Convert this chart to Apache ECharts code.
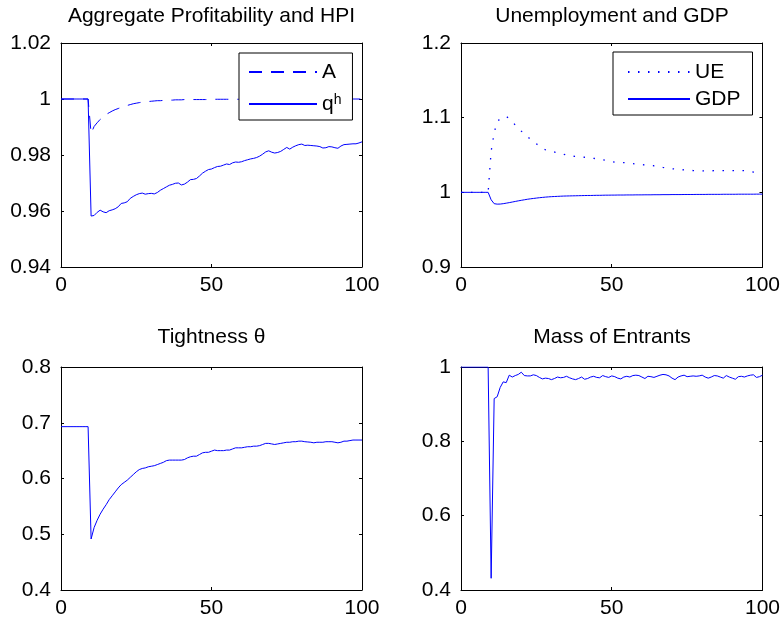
<!DOCTYPE html>
<html>
<head>
<meta charset="utf-8">
<script src="https://cdn.jsdelivr.net/npm/echarts@6/dist/echarts.min.js"></script>
<style>
html,body{margin:0;padding:0;background:#fff;}
#chart{width:783px;height:624px;}
</style>
</head>
<body>
<div id="chart"></div>
<script>
// ---- data (t = 0..100) ----
const xTicks = [0, 50, 100];

const profitA = [1,1,1,1,1,1,1,1,1,1,
0.9877,0.9902,0.9915,0.9927,0.9937,0.9945,0.9951,0.9957,0.9962,0.9966,
0.9970,0.9974,0.9977,0.9980,0.9983,0.9985,0.9987,0.9989,0.9990,0.9991,
0.9992,0.9993,0.9994,0.9994,0.9995,0.9995,0.9996,0.9996,0.9997,0.9997,
0.9997,0.9998,0.9998,0.9998,0.9998,0.9998,0.9998,0.9998,0.9998,0.9998,
0.9999,0.9999,0.9999,0.9999,0.9999,0.9999,0.9999,0.9999,0.9999,0.9999,
0.9999,0.9999,0.9999,0.9999,0.9999,0.9999,0.9999,0.9999,0.9999,0.9999,
1,1,1,1,1,1,1,1,1,1,
1,1,1,1,1,1,1,1,1,1,
1,1,1,1,1,1,1,1,1,1,
1];

const hpiQ = [1,1,1,1,1,1,1,1,1,1,
0.9582,0.9584,0.9595,0.9603,0.9597,0.9594,0.9601,0.9604,0.9608,0.9615,
0.9627,0.9629,0.9633,0.9645,0.9652,0.9658,0.9662,0.9664,0.9660,0.9662,
0.9663,0.9661,0.9666,0.9674,0.9680,0.9686,0.9692,0.9695,0.9699,0.9700,
0.9693,0.9696,0.9703,0.9712,0.9713,0.9716,0.9725,0.9735,0.9742,0.9748,
0.9750,0.9755,0.9759,0.9760,0.9764,0.9768,0.9766,0.9772,0.9775,0.9774,
0.9776,0.9780,0.9783,0.9786,0.9788,0.9791,0.9796,0.9803,0.9811,0.9815,
0.9810,0.9807,0.9809,0.9813,0.9820,0.9827,0.9821,0.9828,0.9833,0.9837,
0.9839,0.9834,0.9835,0.9834,0.9833,0.9832,0.9830,0.9825,0.9826,0.9830,
0.9829,0.9826,0.9824,0.9832,0.9837,0.9838,0.9839,0.9840,0.9840,0.9843,
0.9847];

const unemp = [1,1,1,1,1,1,1,1,1,1,
1.055,1.080,1.094,1.099,1.101,1.1015,1.099,1.095,1.090,1.086,
1.082,1.078,1.075,1.071,1.068,1.065,1.062,1.059,1.057,1.0555,
1.0545,1.054,1.053,1.0525,1.051,1.050,1.049,1.0485,1.048,1.048,
1.0475,1.047,1.0465,1.046,1.0455,1.045,1.0445,1.0437,1.043,1.042,
1.0412,1.0405,1.040,1.0397,1.0397,1.0397,1.039,1.0385,1.038,1.0375,
1.037,1.0368,1.0366,1.036,1.0356,1.0353,1.0343,1.0333,1.0324,1.032,
1.0316,1.0313,1.031,1.0305,1.030,1.0298,1.0295,1.0292,1.029,1.0288,
1.0287,1.0286,1.0287,1.0288,1.029,1.029,1.029,1.029,1.029,1.029,
1.029,1.029,1.029,1.029,1.029,1.0285,1.028,1.0272,1.027,1.0268,
1.0265];

const gdp = [1,1,1,1,1,1,1,1,1,1,
0.990,0.9848,0.9842,0.9843,0.9848,0.9855,0.9862,0.9870,0.9878,0.9886,
0.9893,0.9900,0.9907,0.9913,0.9918,0.9923,0.9928,0.9932,0.9936,0.9939,
0.9942,0.9944,0.9946,0.9948,0.9950,0.9951,0.9952,0.9953,0.9954,0.9955,
0.9956,0.9957,0.9958,0.9958,0.9959,0.9960,0.9960,0.9961,0.9962,0.9962,
0.9963,0.9963,0.9964,0.9964,0.9964,0.9965,0.9965,0.9965,0.9966,0.9966,
0.9966,0.9967,0.9967,0.9967,0.9968,0.9968,0.9968,0.9969,0.9969,0.9969,
0.9970,0.9970,0.9970,0.9970,0.9971,0.9971,0.9971,0.9971,0.9972,0.9972,
0.9972,0.9972,0.9973,0.9973,0.9973,0.9973,0.9973,0.9974,0.9974,0.9974,
0.9974,0.9974,0.9975,0.9975,0.9975,0.9975,0.9975,0.9975,0.9976,0.9976,
0.9976];

const tightness = [0.693,0.693,0.693,0.693,0.693,0.693,0.693,0.693,0.693,0.693,
0.4915,0.512,0.525,0.536,0.545,0.553,0.562,0.569,0.576,0.583,
0.589,0.593,0.597,0.602,0.607,0.612,0.616,0.618,0.619,0.621,
0.622,0.623,0.625,0.627,0.629,0.632,0.633,0.633,0.633,0.633,
0.633,0.634,0.637,0.639,0.640,0.640,0.643,0.646,0.647,0.647,
0.649,0.651,0.650,0.650,0.650,0.651,0.651,0.653,0.655,0.655,
0.655,0.656,0.657,0.657,0.658,0.658,0.659,0.661,0.663,0.663,
0.662,0.661,0.662,0.663,0.664,0.665,0.665,0.666,0.666,0.667,
0.667,0.666,0.6655,0.665,0.664,0.665,0.665,0.665,0.666,0.666,
0.666,0.665,0.664,0.665,0.667,0.667,0.668,0.669,0.669,0.669,
0.669];

const entrants = [1,1,1,1,1,1,1,1,1,1,
0.4315,0.915,0.920,0.945,0.960,0.958,0.978,0.973,0.977,0.980,
0.986,0.977,0.976,0.976,0.979,0.977,0.972,0.968,0.970,0.969,
0.966,0.969,0.973,0.971,0.972,0.975,0.971,0.968,0.966,0.969,
0.973,0.967,0.969,0.973,0.975,0.972,0.971,0.977,0.974,0.972,
0.976,0.974,0.970,0.968,0.973,0.975,0.973,0.977,0.978,0.977,
0.973,0.969,0.975,0.974,0.972,0.975,0.978,0.980,0.979,0.976,
0.970,0.966,0.973,0.976,0.978,0.974,0.975,0.976,0.975,0.976,
0.978,0.973,0.970,0.973,0.977,0.976,0.973,0.970,0.977,0.973,
0.970,0.967,0.974,0.975,0.973,0.976,0.978,0.979,0.972,0.974,
0.978];

const titles = ['Aggregate Profitability and HPI', 'Unemployment and GDP', 'Tightness \u03b8', 'Mass of Entrants'];
const yRanges = [[0.94, 1.02, 0.02], [0.9, 1.2, 0.1], [0.4, 0.8, 0.1], [0.4, 1.0, 0.2]];

// ---- layout ----
const FONT = "'Liberation Sans', Arial, Helvetica, sans-serif";
const BLUE = '#0000ff';
const gridBoxes = [
  {left: 61, top: 43, width: 301, height: 224},
  {left: 461, top: 43, width: 302, height: 224},
  {left: 61, top: 367, width: 301, height: 223},
  {left: 461, top: 367, width: 302, height: 223}
];
const titleTops = [6, 6, 327, 327];

function fmt(v) { return String(Math.round(v * 100) / 100); }

const grid = [], xAxis = [], yAxis = [], title = [];
gridBoxes.forEach((g, i) => {
  grid.push(Object.assign({show: false, containLabel: false}, g));
  title.push({
    text: titles[i], left: g.left + g.width / 2, top: titleTops[i], textAlign: 'center', padding: 0,
    textStyle: {fontFamily: FONT, fontSize: 21, fontWeight: 'normal', color: '#000'}
  });
  const axLine = {show: true, onZero: false, lineStyle: {color: '#000', width: 1}};
  const tick = {show: true, inside: true, length: 3, lineStyle: {color: '#000', width: 1}};
  [ 'bottom', 'top' ].forEach((pos, k) => {
    xAxis.push({
      type: 'value', gridIndex: i, position: pos, min: xTicks[0], max: xTicks[xTicks.length - 1], interval: 50,
      axisLine: axLine, axisTick: tick, splitLine: {show: false},
      axisLabel: {show: k === 0, color: '#000', fontFamily: FONT, fontSize: 21, margin: 8,
        formatter: v => String(v)}
    });
  });
  const r = yRanges[i];
  [ 'left', 'right' ].forEach((pos, k) => {
    yAxis.push({
      type: 'value', gridIndex: i, position: pos, min: r[0], max: r[1], interval: r[2],
      axisLine: axLine, axisTick: tick, splitLine: {show: false},
      axisLabel: {show: k === 0, color: '#000', fontFamily: FONT, fontSize: 21, margin: 10, formatter: fmt}
    });
  });
});

function pairs(arr) { return arr.map((v, t) => [t, v]); }
function lineSeries(name, arr, gi, lineType, width) {
  return {
    type: 'line', name: name, xAxisIndex: gi * 2, yAxisIndex: gi * 2, data: pairs(arr),
    symbol: 'none', showSymbol: false, silent: true,
    lineStyle: {color: BLUE, width: width || 1, type: lineType || 'solid'},
    itemStyle: {color: BLUE}
  };
}

const series = [
  lineSeries('A', profitA, 0, [13, 9], 1),
  lineSeries('qh', hpiQ, 0),
  lineSeries('UE', unemp, 1, [1.5, 8.5], 1.3),
  lineSeries('GDP', gdp, 1),
  lineSeries('theta', tightness, 2),
  lineSeries('entrants', entrants, 3)
];

const hiddenSymbol = {color: 'rgba(0,0,0,0)', borderWidth: 0, opacity: 0};

const legend = [
  {
    data: ['A', 'qh'], orient: 'vertical', left: 239, top: 53,
    padding: [7, 11, 5.5, 9], itemGap: 1.5, itemWidth: 68, itemHeight: 14,
    borderColor: '#000', borderWidth: 1, backgroundColor: '#fff', selectedMode: false,
    itemStyle: hiddenSymbol,
    formatter: n => n === 'qh' ? '{q|q}{s|h}' : '{a|A}',
    textStyle: {
      fontFamily: FONT, fontSize: 21, color: '#000', lineHeight: 24,
      rich: {
        a: {fontFamily: FONT, fontSize: 21, lineHeight: 24, color: '#000'},
        q: {fontFamily: FONT, fontSize: 21, lineHeight: 21, padding: [8, 0, 0, 0], verticalAlign: 'bottom', color: '#000'},
        s: {fontFamily: FONT, fontSize: 14, lineHeight: 14, verticalAlign: 'top', color: '#000'}
      }
    }
  },
  {
    data: ['UE', 'GDP'], orient: 'vertical', left: 613, top: 52,
    padding: [8, 12, 4, 14], itemGap: 3, itemWidth: 62, itemHeight: 14,
    borderColor: '#000', borderWidth: 1, backgroundColor: '#fff', selectedMode: false,
    itemStyle: hiddenSymbol,
    textStyle: {fontFamily: FONT, fontSize: 21, color: '#000', lineHeight: 24}
  }
];

const chart = echarts.init(document.getElementById('chart'), null, {renderer: 'canvas'});
chart.setOption({
  animation: false,
  backgroundColor: '#fff',
  title: title, grid: grid, xAxis: xAxis, yAxis: yAxis, legend: legend, series: series
});
</script>
</body>
</html>
